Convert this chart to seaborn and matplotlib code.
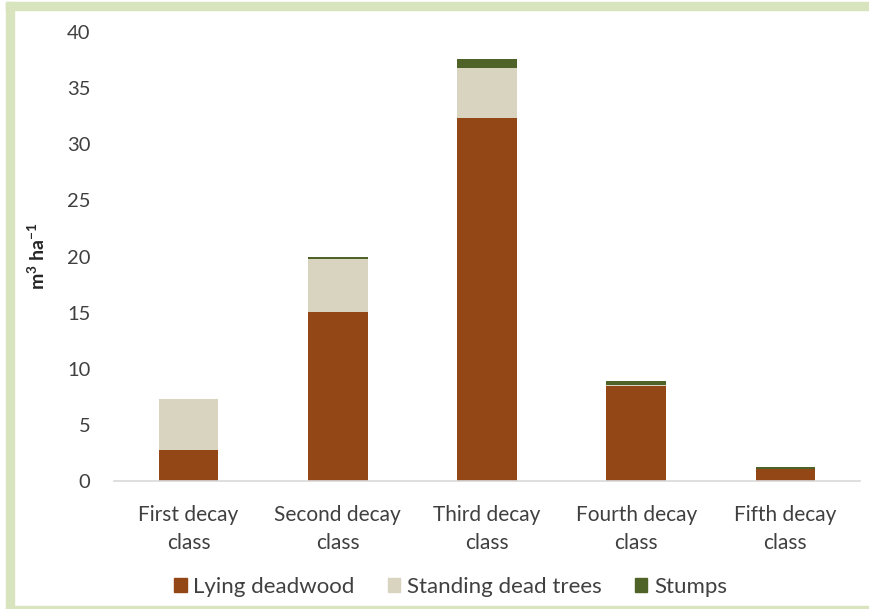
import matplotlib
matplotlib.use("Agg")
import matplotlib.pyplot as plt
import matplotlib.patches as mpatches
import seaborn as sns
import pandas as pd
import numpy as np

# data (m3 ha-1)
classes = ["First decay\nclass", "Second decay\nclass", "Third decay\nclass",
           "Fourth decay\nclass", "Fifth decay\nclass"]
lying = [2.8, 15.1, 32.3, 8.45, 1.05]
standing = [4.5, 4.7, 4.5, 0.1, 0.0]
stumps = [0.0, 0.2, 0.8, 0.4, 0.2]
series_names = ["Lying deadwood", "Standing dead trees", "Stumps"]
colors = ["#934716", "#D9D4C0", "#4F6228"]

sns.set_theme(style="white")
plt.rcParams["font.family"] = ["Lato", "DejaVu Sans"]
plt.rcParams["mathtext.fontset"] = "custom"
plt.rcParams["mathtext.bf"] = "Lato:bold"
plt.rcParams["mathtext.rm"] = "Lato"

df = pd.DataFrame({"cls": classes, "lying": lying, "standing": standing, "stumps": stumps})
df["lay2"] = df["lying"] + df["standing"]
df["lay3"] = df["lay2"] + df["stumps"]

fig = plt.figure(figsize=(8.7, 6.09), dpi=100)
ax = fig.add_axes([114 / 870, 1 - 481 / 609, (860 - 114) / 870, (481 - 32) / 609])

# stacked bars drawn as overlaid cumulative layers
for col, c in zip(["lay3", "lay2", "lying"], colors[::-1]):
    sns.barplot(data=df, x="cls", y=col, color=c, width=0.4, saturation=1,
                edgecolor="none", linewidth=0, ax=ax)

ax.set_xlim(-0.5, 4.5)
ax.set_ylim(0, 40)
ax.set_yticks(range(0, 41, 5))
ax.set_xlabel("")
ax.set_ylabel(r"m$^{\mathbf{3}}$ ha$^{\mathbf{-1}}$", fontsize=14, fontweight="bold",
              color="#262626", labelpad=14)
txt_c = "#404040"
ax.tick_params(axis="y", length=0, pad=17, labelsize=14.5, labelcolor=txt_c)
ax.tick_params(axis="x", length=0, pad=17, labelsize=15, labelcolor=txt_c)
for lab in ax.get_xticklabels():
    lab.set_linespacing(1.55)
for s in ["top", "right", "left"]:
    ax.spines[s].set_visible(False)
ax.spines["bottom"].set_color("#D9D9D9")
ax.spines["bottom"].set_linewidth(1.2)

handles = [mpatches.Patch(color=c, label=n) for c, n in zip(colors, series_names)]
fig.legend(handles=handles, loc="center", bbox_to_anchor=(0.518, 1 - 587 / 609), ncol=3,
           frameon=False, fontsize=16, handlelength=0.55, handleheight=0.55,
           handletextpad=0.3, columnspacing=1.5, labelcolor=txt_c)

# light green frame
border = "#D7E4BD"
fig.patches.append(mpatches.Rectangle((6 / 870, 1 - 10 / 609), 1, 8 / 609,
                                      transform=fig.transFigure, color=border, zorder=0))
fig.patches.append(mpatches.Rectangle((6 / 870, 0), 8 / 870, 1 - 2 / 609,
                                      transform=fig.transFigure, color=border, zorder=0))
fig.patches.append(mpatches.Rectangle((6 / 870, 0), 1, 3 / 609,
                                      transform=fig.transFigure, color=border, zorder=0))

fig.savefig("out.png", dpi=100)
